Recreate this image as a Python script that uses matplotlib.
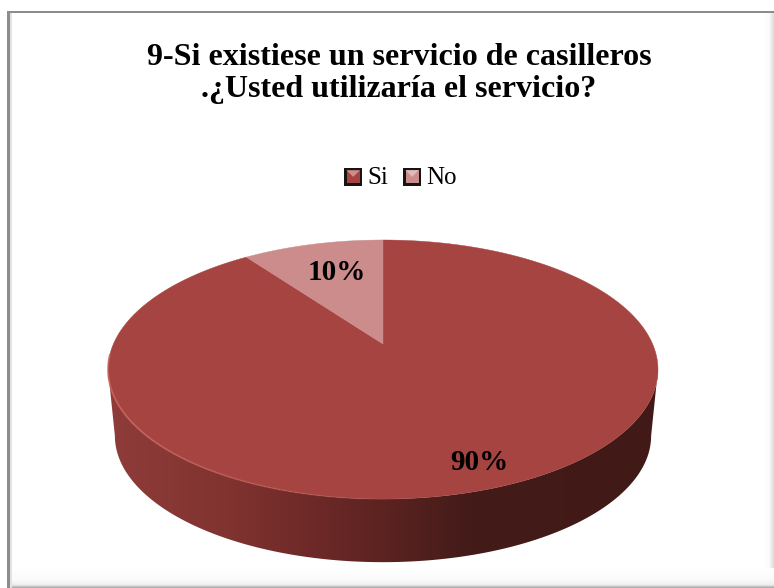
import numpy as np
import matplotlib
matplotlib.use("Agg")
import matplotlib.pyplot as plt
from matplotlib.collections import LineCollection
from matplotlib.colors import LinearSegmentedColormap, to_rgb
from matplotlib.legend_handler import HandlerPatch
from matplotlib.patches import Patch, Polygon, Rectangle

# Chart content
title = "9-Si existiese un servicio de casilleros\n.¿Usted utilizaría el servicio?"
categories = ["Si", "No"]
values = [90, 10]
colors = ["#a64441", "#cc8c8c"]

SERIF = "Liberation Serif"

# Perspective disc geometry, in canvas pixels
CX, CY = 383.0, 344.0
A, B, P = 269.6, 124.5, 0.197
DEPTH_SCALE, DEPTH_CY = 0.975, 411.0


def project(theta, scale=1.0, cy=CY):
    """Map an angle on the disc (u = cos, v = sin, v towards the viewer) to the canvas."""
    u, v = np.cos(theta), np.sin(theta)
    w = 1 - P * v
    return CX + scale * A * u / w, cy + scale * B * v / w


def clock_to_theta(fraction):
    """Fraction of a turn, clockwise from twelve o'clock, as a disc angle."""
    return -np.pi / 2 + 2 * np.pi * fraction


def gradient(ax, extent, stops, horizontal=True, clip=None, zorder=1):
    cmap = LinearSegmentedColormap.from_list("g", stops)
    ramp = np.linspace(0, 1, 512)
    ramp = ramp[None, :] if horizontal else ramp[:, None]
    im = ax.imshow(ramp, cmap=cmap, extent=extent, aspect="auto", origin="upper",
                   zorder=zorder, interpolation="bilinear", vmin=0, vmax=1)
    if clip is not None:
        im.set_clip_path(clip)
    return im


class BevelHandler(HandlerPatch):
    """Legend key: dark square with a lit, bevelled face."""

    def create_artists(self, legend, orig, xd, yd, w, h, fontsize, trans):
        side = 12.8
        edge = 1.7
        x0, y0 = -xd, -yd + (h - side) / 2 - 1.0
        base = to_rgb(orig.get_facecolor())
        light = tuple(c + (1 - c) * 0.4 for c in base)
        frame = Rectangle((x0, y0), side, side, fc="#141414", ec="none")
        face = Rectangle((x0 + edge, y0 + edge), side - 2 * edge, side - 2 * edge,
                         fc=base, ec="none")
        top = Polygon([(x0 + edge, y0 + side - edge), (x0 + side - edge, y0 + side - edge),
                       (x0 + side / 2, y0 + side / 2)], fc=light, ec="none")
        for artist in (frame, face, top):
            artist.set_transform(trans)
        return [frame, face, top]


fig = plt.figure(figsize=(7.74, 5.88), dpi=100, facecolor="white")
ax = fig.add_axes([0, 0, 1, 1])
ax.set_axis_off()

# Panel frame: hard grey on top and left, soft shadow on the right and bottom
gradient(ax, (764, 774, 588, 11), ["#ffffff", "#fcfcfc", "#dcdcdc"], zorder=1)
gradient(ax, (8, 774, 588, 568),
         [(0.0, "#ffffff"), (0.6, "#fafafa"), (0.85, "#eeeeee"), (1.0, "#a0a0a0")],
         horizontal=False, zorder=1)
ax.add_patch(Rectangle((7, 11), 3, 577, fc="#8c8c8c", ec="none", zorder=1.5))
ax.add_patch(Rectangle((10, 12.5), 1.5, 575, fc="#e2e2e2", ec="none", zorder=1.5))
ax.add_patch(Rectangle((7, 11), 767, 1.6, fc="#8c8c8c", ec="none", zorder=1.5))

# Side wall of the disc
tangent = np.arcsin(P)
front = np.linspace(tangent, np.pi - tangent, 400)
top_x, top_y = project(front)
bot_x, bot_y = project(front, DEPTH_SCALE, DEPTH_CY)
wall = Polygon(np.r_[np.c_[top_x, top_y], np.c_[bot_x, bot_y][::-1]],
               closed=True, fc="none", ec="none", transform=ax.transData)
ax.add_patch(wall)
gradient(ax, (108, 658, 570, 360),
         [(0.0, "#8f3c3a"), (0.22, "#80332f"), (0.36, "#6f2a28"),
          (0.52, "#592220"), (0.66, "#431b19"), (1.0, "#411a18")],
         clip=wall, zorder=2)

# Top face, one wedge per category
total = sum(values)
start = 0.0
for value, color in zip(values, colors):
    end = start + value / total
    theta = np.linspace(clock_to_theta(start), clock_to_theta(end), 500)
    x, y = project(theta)
    ax.add_patch(Polygon(np.r_[[[CX, CY]], np.c_[x, y]], closed=True,
                         fc=color, ec=color, lw=0.3, zorder=3))
    start = end

# Lit edge along the front-left rim
rim = np.linspace(np.pi - tangent + 0.12, np.pi / 2 - 0.1, 200)
rx, ry = project(rim)
points = np.c_[rx, ry]
segments = np.stack([points[:-1], points[1:]], axis=1)
alpha = np.minimum(1, np.linspace(1.6, 0, len(segments))) * 0.8
rgba = np.c_[np.tile(to_rgb("#cc6a64"), (len(segments), 1)), alpha]
ax.add_collection(LineCollection(segments, colors=rgba, linewidths=1.3, zorder=4))

# Data labels
ax.text(479, 462, f"{values[0]}%", family=SERIF, weight="bold", fontsize=21,
        ha="center", va="center", color="black", zorder=5)
ax.text(337, 272, f"{values[1]}%", family=SERIF, weight="bold", fontsize=21,
        ha="center", va="center", color="black", zorder=5)

ax.text(399, 73.5, title, family=SERIF, weight="bold", fontsize=23, ha="center",
        va="center", linespacing=1.16, color="black", zorder=5)

handles = [Patch(facecolor=c, label=n) for c, n in zip(colors, categories)]
legend = ax.legend(handles=handles, loc="center", bbox_to_anchor=(400.5 / 774, 1 - 178 / 588),
                   ncol=2, frameon=False, handler_map={Patch: BevelHandler()},
                   prop={"family": SERIF, "size": 18}, handlelength=0.72,
                   handletextpad=0.2, columnspacing=0.6, borderpad=0, borderaxespad=0)
legend.set_zorder(5)

ax.set_xlim(0, 774)
ax.set_ylim(588, 0)
fig.savefig("out.png", dpi=100, facecolor="white")
